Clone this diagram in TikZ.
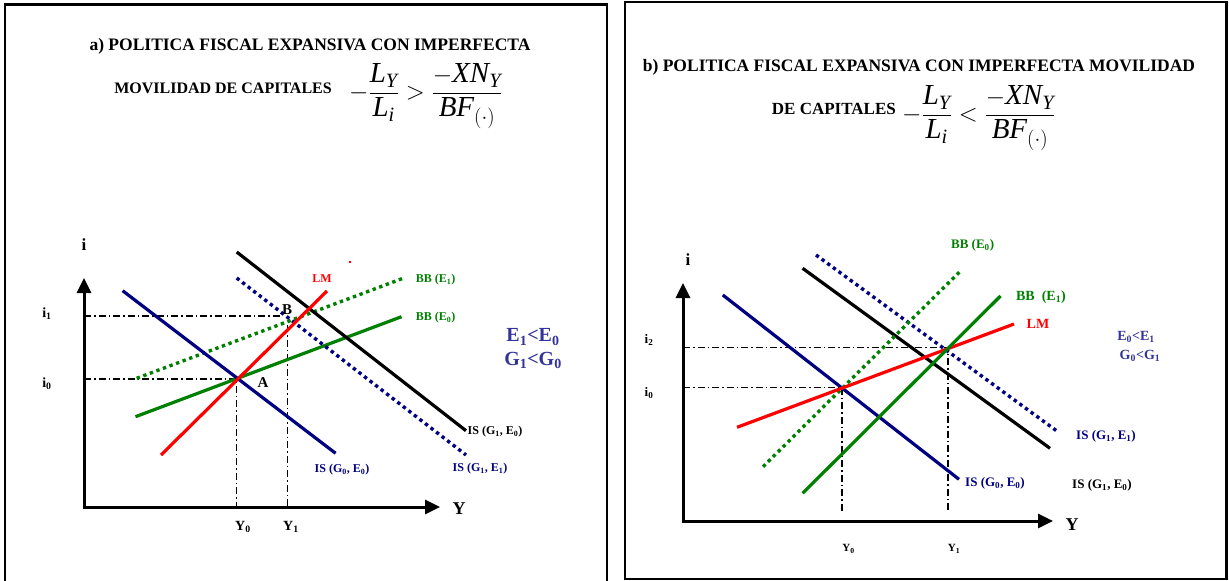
\documentclass[tikz,border=0pt]{standalone}
\usepackage{fontspec}
\setmainfont{Liberation Serif}
\usepackage{amsmath}
\usetikzlibrary{arrows.meta}
\definecolor{navy}{RGB}{0,0,128}
\definecolor{ggreen}{RGB}{0,128,0}
\definecolor{slate}{RGB}{51,51,153}
\newcommand\mi[1]{\text{\itshape #1}}
\newcommand\fs[1]{\fontsize{#1}{#1}\selectfont\bfseries}
\begin{document}
\begin{tikzpicture}[x=1pt,y=-1pt,
  frame/.style={line width=2.2pt},
  axis/.style={line width=3pt,line join=miter,{Triangle[length=15pt,width=14pt]}-{Triangle[length=15pt,width=14pt]}},
  curve/.style={line width=3.2pt},
  dotcurve/.style={line width=3.4pt,dash pattern=on 3.4pt off 3.6pt},
  guide/.style={line width=1.5pt,dash pattern=on 7pt off 3pt on 1.5pt off 3pt},
  lab/.style={inner sep=0pt,font=\fs{12}},
  title/.style={inner sep=0pt,font=\fs{17.5}},
  formula/.style={inner sep=0pt,anchor=west,font=\fontsize{29}{32}\selectfont}]
\useasboundingbox (0,0) rectangle (1229,581);
\clip (0,0) rectangle (1229,581);
% frames
\draw[frame] (5,600) -- (5,4.5) -- (607,4.5) -- (607,600);
\draw[frame] (625,2) rectangle (1226.5,579);

% ---------- titles ----------
\node[title] (ta1) at (310,46) {a) POLITICA FISCAL EXPANSIVA CON IMPERFECTA};
\node[title,font=\fs{16},anchor=base east] (ta2) at (332,93) {MOVILIDAD DE CAPITALES};
\node[formula] (fa) at (349,96)
  {$\displaystyle -\frac{\mi{L}_{\mi{Y}}}{\mi{L}_{\mi{i}}} > \frac{-\mi{XN}_{\mi{Y}}}{\mi{BF}_{(\cdot)}}$};
\node[title] (tb1) at (919,67) {b) POLITICA FISCAL EXPANSIVA CON IMPERFECTA MOVILIDAD};
\node[title,font=\fs{17},anchor=base east] (tb2) at (896,114) {DE CAPITALES};
\node[formula] (fb) at (902,118)
  {$\displaystyle -\frac{\mi{L}_{\mi{Y}}}{\mi{L}_{\mi{i}}} < \frac{-\mi{XN}_{\mi{Y}}}{\mi{BF}_{(\cdot)}}$};

% ---------- panel a ----------
\coordinate (ayt) at (84,278);
\coordinate (ao) at (84,507);
\coordinate (axt) at (440,507);
\coordinate (aA) at (236.7,379);
\coordinate (ai1e) at (281,316);
\coordinate (ay1t) at (287.4,325);
\coordinate (ay0b) at (236.7,507);
\coordinate (ay1b) at (287.4,507);
\draw[guide] (ao |- aA) -- (aA) -- (ay0b);
\draw[guide] (ao |- ai1e) -- (ai1e);
\draw[guide] (ay1t) -- (ay1b);
\coordinate (ais0a) at (122.6,290.7); \coordinate (ais0b) at (335.6,453.3);
\coordinate (ais1a) at (236.7,252);   \coordinate (ais1b) at (466,430.7);
\coordinate (aisda) at (236.7,278);   \coordinate (aisdb) at (466,455);
\coordinate (alma) at (161,455);      \coordinate (almb) at (327,291);
\coordinate (abb1a) at (136.7,378.3); \coordinate (abb1b) at (403,278.3);
\coordinate (abb0a) at (135.5,416.7); \coordinate (abb0b) at (401.5,316.7);
\draw[curve,ggreen] (abb0a) -- (abb0b);
\draw[dotcurve,ggreen] (abb1a) -- (abb1b);
\draw[curve,navy] (ais0a) -- (ais0b);
\draw[dotcurve,navy] (aisda) -- (aisdb);
\draw[curve,black] (ais1a) -- (ais1b);
\draw[curve,red] (alma) -- (almb);
\coordinate (ared1) at (348.5,262); \coordinate (ared2) at (351,262);
\draw[red,line width=1.2pt] (ared1) -- (ared2);
\draw[axis] (ayt) -- (ao) -- (axt);
\node[lab,font=\fs{17}] (ai) at (84,245) {i};
\node[lab,font=\fs{14}] (ai1) at (47,314) {i\textsubscript{1}};
\node[lab,font=\fs{14}] (ai0) at (47,384) {i\textsubscript{0}};
\node[lab,red] (alm) at (322,279) {LM};
\node[lab,ggreen] (abbe1) at (435.5,280) {BB (E\textsubscript{1})};
\node[lab,ggreen] (abbe0) at (435.5,318) {BB (E\textsubscript{0})};
\node[lab,font=\fs{15}] (aB) at (287,310) {B};
\node[lab,font=\fs{15}] (aAl) at (263,383) {A};
\node[lab,slate,font=\fs{20}] (ae) at (533,337) {E\textsubscript{1}<E\textsubscript{0}};
\node[lab,slate,font=\fs{20}] (ag) at (533,360) {G\textsubscript{1}<G\textsubscript{0}};
\node[lab] (ais10) at (495,432) {IS (G\textsubscript{1}, E\textsubscript{0})};
\node[lab,navy] (ais00) at (342,470) {IS (G\textsubscript{0}, E\textsubscript{0})};
\node[lab,navy] (ais11) at (480,469) {IS (G\textsubscript{1}, E\textsubscript{1})};
\node[lab,font=\fs{18}] (aY) at (459,509) {Y};
\node[lab,font=\fs{14}] (aY0) at (243,527) {Y\textsubscript{0}};
\node[lab,font=\fs{14}] (aY1) at (291,527) {Y\textsubscript{1}};

% ---------- panel b ----------
\coordinate (byt) at (683,283);
\coordinate (bo) at (683,521);
\coordinate (bxt) at (1053,521);
\coordinate (bi2e) at (947.8,347.3);
\coordinate (bi0e) at (842,387.3);
\coordinate (by1b) at (947.8,513);
\coordinate (by0b) at (842,513);
\draw[guide] (bo |- bi2e) -- (bi2e) -- (by1b);
\draw[guide] (bo |- bi0e) -- (bi0e) -- (by0b);
\coordinate (bis0a) at (722.8,295);   \coordinate (bis0b) at (959,479.3);
\coordinate (bis1a) at (802.6,268.3); \coordinate (bis1b) at (1050,448.3);
\coordinate (bisda) at (816,255);     \coordinate (bisdb) at (1057.8,431.7);
\coordinate (bbb0a) at (763,466.7);   \coordinate (bbb0b) at (961.5,270);
\coordinate (bbb1a) at (802.6,493.3); \coordinate (bbb1b) at (1000.5,296);
\coordinate (blma) at (737,427.3);    \coordinate (blmb) at (1014,324);
\draw[dotcurve,navy] (bisda) -- (bisdb);
\draw[curve,black] (bis1a) -- (bis1b);
\draw[curve,navy] (bis0a) -- (bis0b);
\draw[dotcurve,ggreen] (bbb0a) -- (bbb0b);
\draw[curve,red] (blma) -- (blmb);
\draw[curve,ggreen] (bbb1a) -- (bbb1b);
\draw[axis] (byt) -- (bo) -- (bxt);
\node[lab,font=\fs{17}] (bi) at (688,260) {i};
\node[lab,font=\fs{13}] (bi2) at (649,340) {i\textsubscript{2}};
\node[lab,font=\fs{13}] (bi0) at (649,393) {i\textsubscript{0}};
\node[lab,ggreen,font=\fs{13}] (bbbe0) at (972.6,245) {BB (E\textsubscript{0})};
\node[lab,ggreen,font=\fs{14}] (bbbe1) at (1041,297) {BB\ \ (E\textsubscript{1})};
\node[lab,red,font=\fs{14}] (blm) at (1038,324) {LM};
\node[lab,slate,font=\fs{14}] (be) at (1136,337) {E\textsubscript{0}<E\textsubscript{1}};
\node[lab,slate,font=\fs{14}] (bg) at (1140,356) {G\textsubscript{0}<G\textsubscript{1}};
\node[lab,navy,font=\fs{13}] (bis11) at (1106,436) {IS (G\textsubscript{1}, E\textsubscript{1})};
\node[lab,navy,font=\fs{13}] (bis00) at (995,483) {IS (G\textsubscript{0}, E\textsubscript{0})};
\node[lab,font=\fs{13}] (bis10) at (1102,485) {IS (G\textsubscript{1}, E\textsubscript{0})};
\node[lab,font=\fs{18}] (bY) at (1072,525) {Y};
\node[lab,font=\fs{11}] (bY0) at (848.5,549) {Y\textsubscript{0}};
\node[lab,font=\fs{11}] (bY1) at (954,549) {Y\textsubscript{1}};
\end{tikzpicture}
\end{document}
